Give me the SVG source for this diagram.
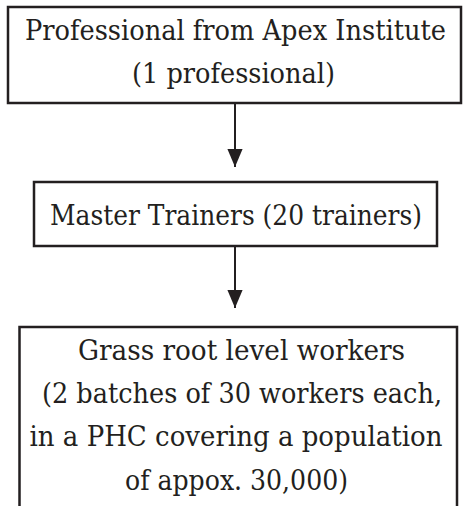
<svg xmlns="http://www.w3.org/2000/svg" width="463" height="506" viewBox="0 0 463 506">
  <style>
    .box { fill: #ffffff; stroke: #231f20; stroke-width: 2.5; }
    .lbl { font-family: "DejaVu Serif Condensed", "DejaVu Serif", serif; font-stretch: condensed; font-size: 27px; fill: #231f20; text-anchor: middle; }
    .conn { stroke: #231f20; stroke-width: 2; fill: none; }
  </style>
  <defs>
    <marker id="arrow" markerUnits="userSpaceOnUse" markerWidth="18" markerHeight="20" refX="19" refY="8" orient="auto" viewBox="0 0 19 16">
      <path d="M0,0 L19,8 L0,16 Z" fill="#231f20"/>
    </marker>
  </defs>
  <rect width="463" height="506" fill="#ffffff"/>
  <g id="connectors">
    <line class="conn" x1="235" y1="104" x2="235" y2="167" marker-end="url(#arrow)"/>
    <line class="conn" x1="235" y1="247" x2="235" y2="308" marker-end="url(#arrow)"/>
  </g>
  <g id="node-professional">
    <rect class="box" x="8" y="7" width="453" height="96"/>
    <text class="lbl" x="235.5" y="40" textLength="421" lengthAdjust="spacingAndGlyphs">Professional from Apex Institute</text>
    <text class="lbl" x="233.5" y="83" textLength="203" lengthAdjust="spacingAndGlyphs">(1 professional)</text>
  </g>
  <g id="node-master-trainers">
    <rect class="box" x="34" y="182" width="403" height="64"/>
    <text class="lbl" x="236" y="225" textLength="372" lengthAdjust="spacingAndGlyphs">Master Trainers (20 trainers)</text>
  </g>
  <g id="node-grass-root">
    <rect class="box" x="19.5" y="327" width="437.5" height="200"/>
    <text class="lbl" x="241.5" y="360" textLength="327" lengthAdjust="spacingAndGlyphs">Grass root level workers</text>
    <text class="lbl" x="242" y="403" textLength="400" lengthAdjust="spacingAndGlyphs">(2 batches of 30 workers each,</text>
    <text class="lbl" x="236" y="446" textLength="413" lengthAdjust="spacingAndGlyphs">in a PHC covering a population</text>
    <text class="lbl" x="236.5" y="490" textLength="223" lengthAdjust="spacingAndGlyphs">of appox. 30,000)</text>
  </g>
</svg>
